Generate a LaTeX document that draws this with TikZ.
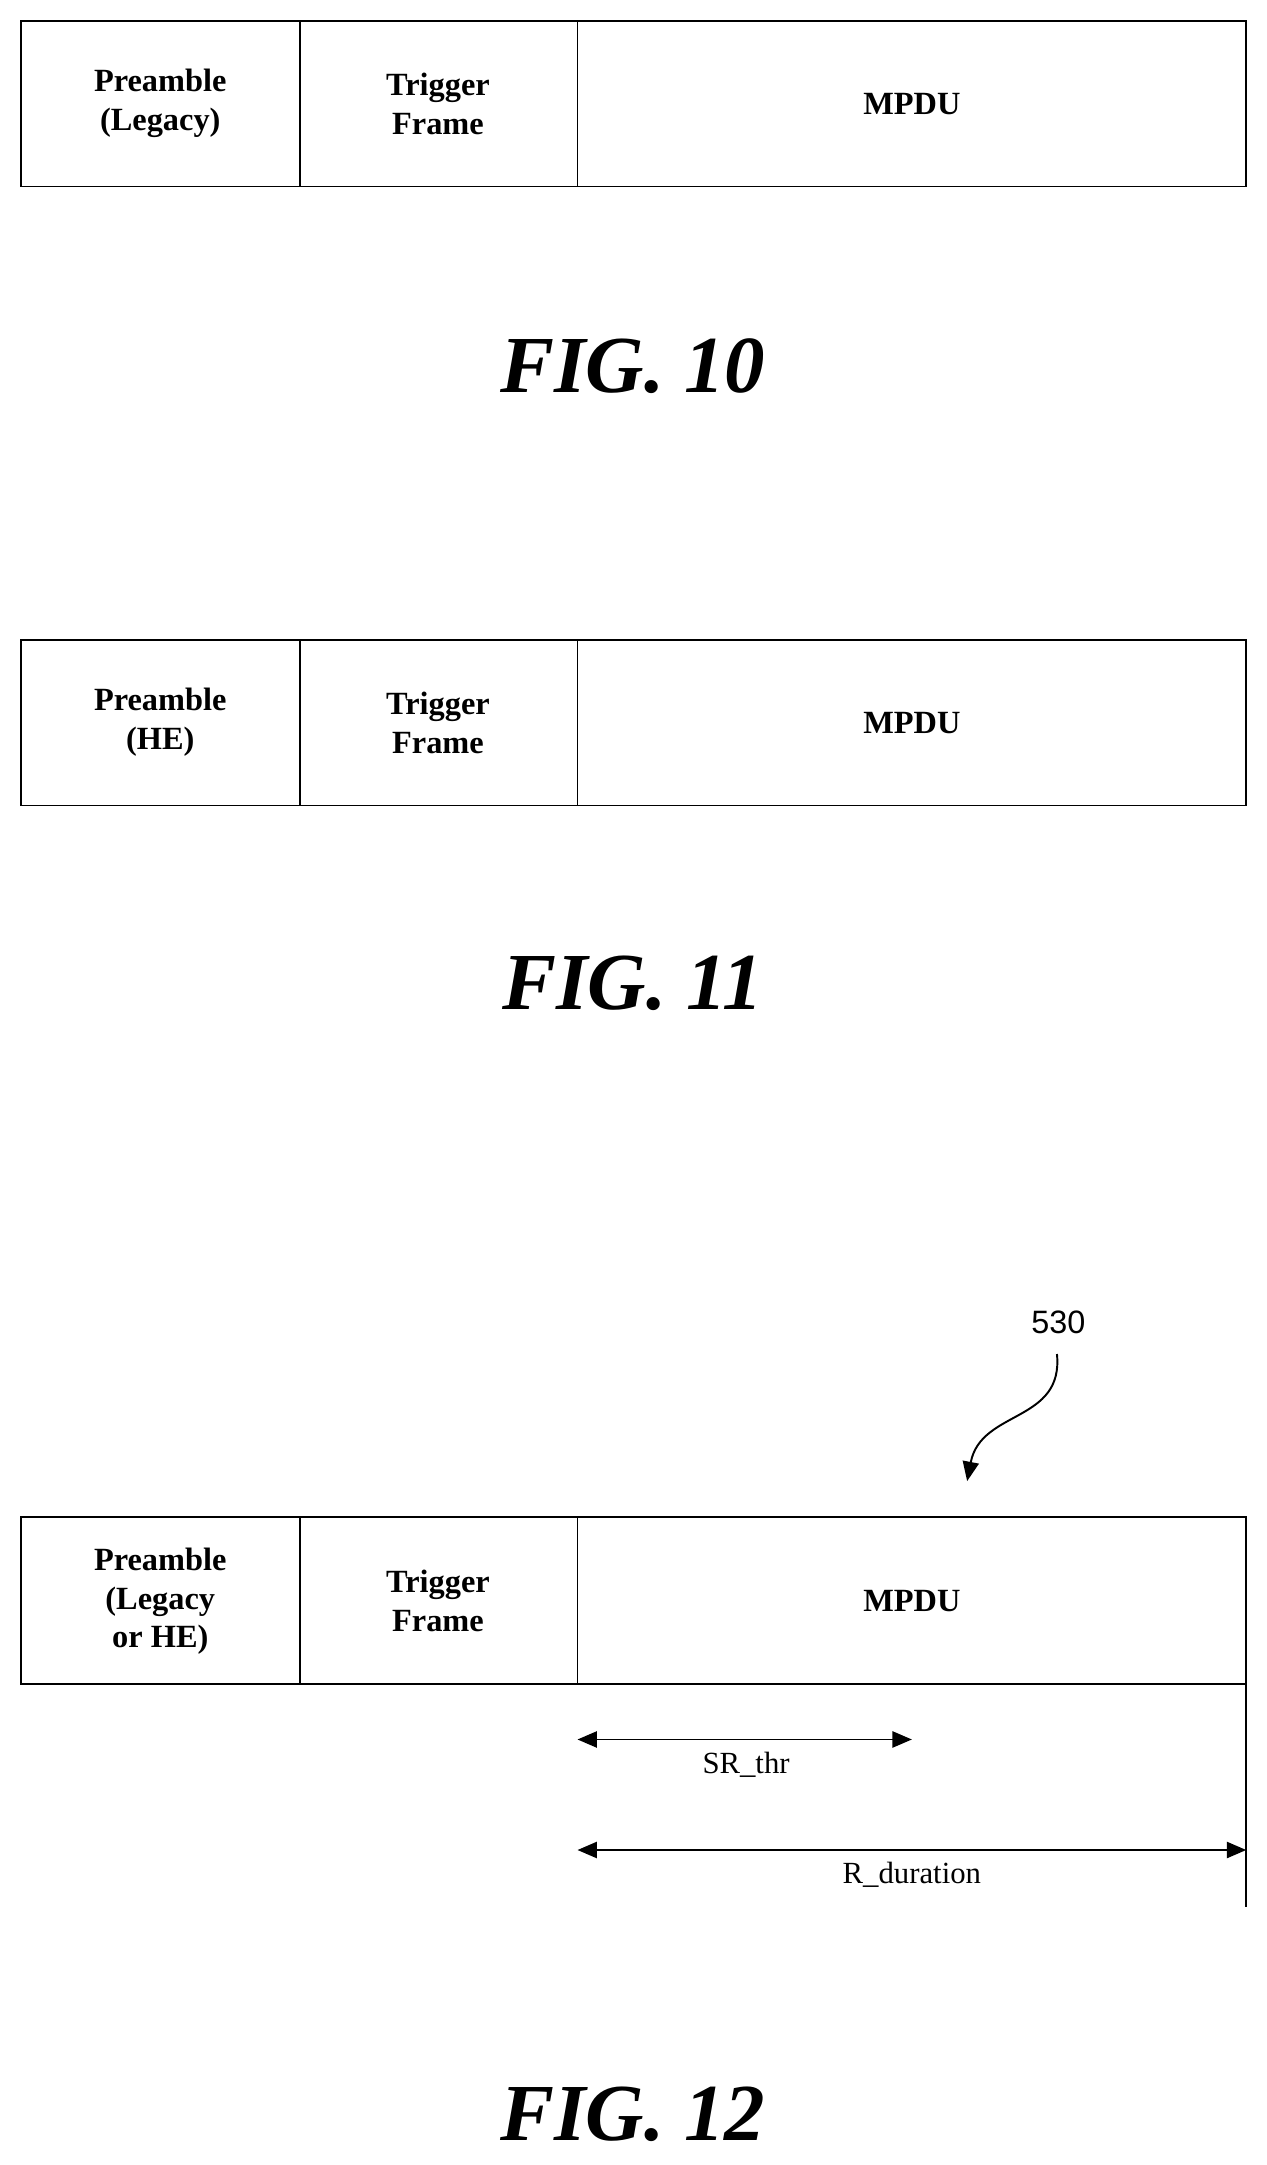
\documentclass[tikz,border=0pt]{standalone}
\usepackage{fontspec}
\setmainfont{Liberation Serif}
\newfontfamily\arialf{Liberation Sans}
\usetikzlibrary{arrows.meta}
\begin{document}
\begin{tikzpicture}[x=0.03cm,y=-0.03cm,
  box/.style={draw,line width=1.2pt},
  lbl/.style={font=\fontsize{20}{24}\selectfont\bfseries,align=center},
  fig/.style={font=\fontsize{50}{56}\selectfont\bfseries\itshape},
  dim/.style={line width=1.2pt,{Triangle[length=12pt,width=10pt]}-{Triangle[length=12pt,width=10pt]}},
  small/.style={font=\fontsize{19}{22}\selectfont}]
\useasboundingbox (0,0) rectangle (917,1567);
% FIG 10
\draw[box] (15,15) rectangle (902,135);
\draw[box] (217,15) -- (217,135) (418,15) -- (418,135);
\node[lbl] (a1) at (116,75) {Preamble\\(Legacy)};
\node[lbl] (b1) at (317,75) {Trigger\\Frame};
\node[lbl] (c1) at (660,75) {MPDU};
\node[fig] (f10) at (458,265) {FIG. 10};
% FIG 11
\draw[box] (15,463) rectangle (902,583);
\draw[box] (217,463) -- (217,583) (418,463) -- (418,583);
\node[lbl] (a2) at (116,523) {Preamble\\(HE)};
\node[lbl] (b2) at (317,523) {Trigger\\Frame};
\node[lbl] (c2) at (660,523) {MPDU};
\node[fig] (f11) at (458,712) {FIG. 11};
% FIG 12
\node[font=\arialf\fontsize{20}{24}\selectfont] (n530) at (766,957) {530};
\coordinate (t) at (700,1072);
\draw[line width=1.2pt,-{Triangle[length=12pt,width=10pt]}] (765,980) .. controls (770,1030) and (710,1020) .. (t);
\draw[box] (15,1098) rectangle (902,1219);
\draw[box] (217,1098) -- (217,1219) (418,1098) -- (418,1219);
\draw[line width=1.2pt] (902,1219) -- (902,1380);
\node[lbl] (a3) at (116,1159) {Preamble\\(Legacy\\or HE)};
\node[lbl] (b3) at (317,1159) {Trigger\\Frame};
\node[lbl] (c3) at (660,1159) {MPDU};
\coordinate (s1) at (418,1259); \coordinate (s2) at (660,1259);
\draw[dim] (s1) -- (s2);
\node[small] (sr) at (540,1277) {SR\_thr};
\coordinate (r1) at (418,1339); \coordinate (r2) at (902,1339);
\draw[dim] (r1) -- (r2);
\node[small] (rd) at (660,1357) {R\_duration};
\node[fig] (f12) at (458,1530) {FIG. 12};
\end{tikzpicture}
\end{document}
